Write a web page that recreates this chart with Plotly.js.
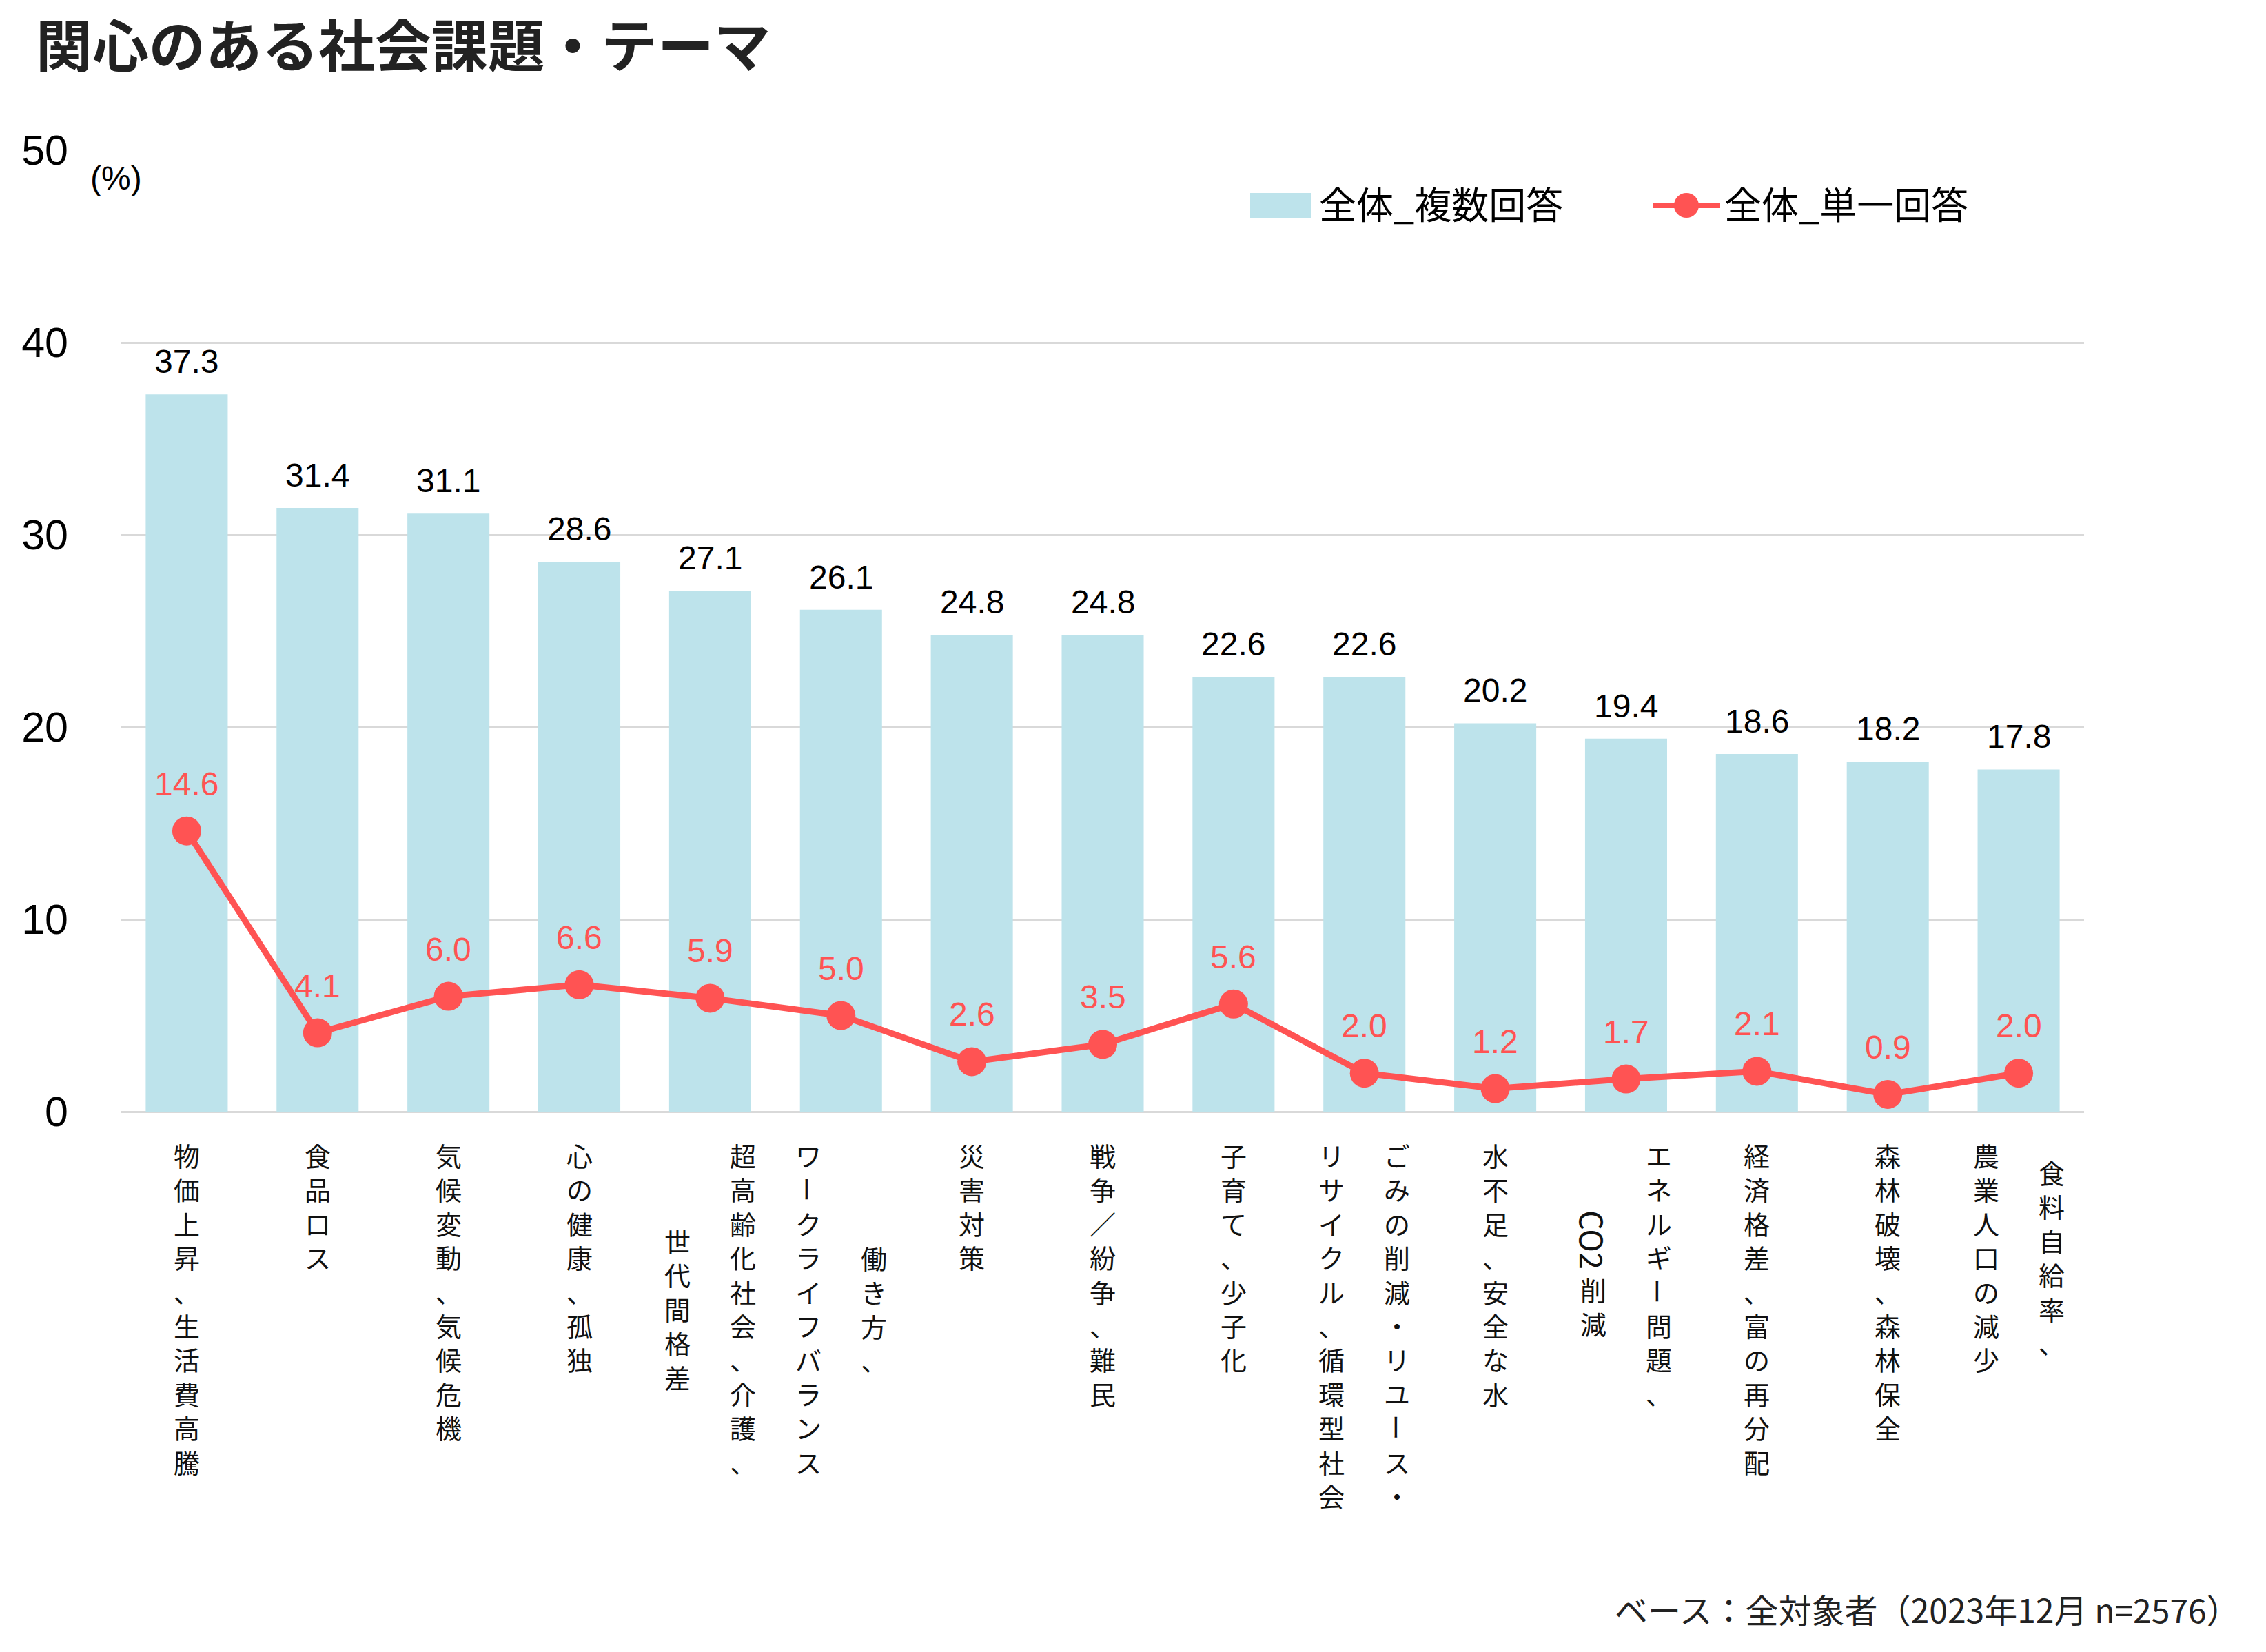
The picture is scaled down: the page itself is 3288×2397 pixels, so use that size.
<!DOCTYPE html>
<html>
<head>
<meta charset="utf-8">
<script src="https://cdn.plot.ly/plotly-3.0.1.min.js"></script>
<style>
  html, body { margin: 0; padding: 0; background: #ffffff; }
  #chart { width: 3288px; height: 2397px; }
</style>
</head>
<body>
<div id="chart"></div>
<script>
// ---- data ---------------------------------------------------------------
const titleText = '関心のある社会課題・テーマ';
const unitText = '(%)';
const noteText = 'ベース：全対象者（2023年12月 n=2576）';
const seriesNames = ['全体_複数回答', '全体_単一回答'];

const categories = [
  '物価上昇、生活費高騰',
  '食品ロス',
  '気候変動、気候危機',
  '心の健康、孤独',
  '超高齢化社会、介護、世代間格差',
  '働き方、ワークライフバランス',
  '災害対策',
  '戦争／紛争、難民',
  '子育て、少子化',
  'ごみの削減・リユース・リサイクル、循環型社会',
  '水不足、安全な水',
  'エネルギー問題、CO2削減',
  '経済格差、富の再分配',
  '森林破壊、森林保全',
  '食料自給率、農業人口の減少'
];

// vertical tick labels: columns read right to left
const tickColumns = [
  ['物価上昇、生活費高騰'],
  ['食品ロス'],
  ['気候変動、気候危機'],
  ['心の健康、孤独'],
  ['超高齢化社会、介護、', '世代間格差'],
  ['働き方、', 'ワークライフバランス'],
  ['災害対策'],
  ['戦争／紛争、難民'],
  ['子育て、少子化'],
  ['ごみの削減・リユース・', 'リサイクル、循環型社会'],
  ['水不足、安全な水'],
  ['エネルギー問題、', 'CO2削減'],
  ['経済格差、富の再分配'],
  ['森林破壊、森林保全'],
  ['食料自給率、', '農業人口の減少']
];

const multiAnswer  = [37.3, 31.4, 31.1, 28.6, 27.1, 26.1, 24.8, 24.8, 22.6, 22.6, 20.2, 19.4, 18.6, 18.2, 17.8];
const singleAnswer = [14.6, 4.1, 6.0, 6.6, 5.9, 5.0, 2.6, 3.5, 5.6, 2.0, 1.2, 1.7, 2.1, 0.9, 2.0];
const yTicks = [0, 10, 20, 30, 40, 50];

// ---- styles -------------------------------------------------------------
const W = 3288, H = 2397;
const M = { l: 176, r: 264, t: 218, b: 784 };
const plotW = W - M.l - M.r, plotH = H - M.t - M.b;
const axisY = H - M.b;

const JP = '"Noto Sans CJK JP", "Noto Sans", sans-serif';
const NUM = '"Liberation Sans", Arial, sans-serif';
const barColor = '#bde3eb';
const lineColor = '#ff5353';
const gridColor = '#d9d9d9';
const textColor = '#111111';

// pixel position on the page -> paper fraction
const px = x => (x - M.l) / plotW;
const py = y => (axisY - y) / plotH;

// ---- vertical category labels -------------------------------------------
// Plotly stacks <br> lines at 1.3em, so one upright run per annotation
const labelFont = 38, pitch = 1.3 * labelFont, colGap = 95, labelTop = 38;
const latinFont = 45;
const ctx = document.createElement('canvas').getContext('2d');
ctx.font = latinFont + 'px "Noto Sans CJK JP"';
const measure = s => ctx.measureText(s).width;

// split a column into upright runs and sideways pieces (Latin, long vowel mark)
function columnRuns(str) {
  const runs = [];
  const re = /[A-Za-z0-9]+|ー|[^A-Za-z0-9ー]+/gu;
  let m;
  while ((m = re.exec(str))) {
    const t = m[0];
    if (/^[A-Za-z0-9]+$/.test(t)) {
      runs.push({ t, sideways: true, size: latinFont, len: measure(t) + 8 });
    } else if (t === 'ー') {
      runs.push({ t, sideways: true, size: labelFont, len: pitch });
    } else {
      const chars = Array.from(t);
      runs.push({ t: chars.join('<br>'), sideways: false, size: labelFont, len: chars.length * pitch });
    }
  }
  return runs;
}

const annotations = [];
tickColumns.forEach((cols, i) => {
  const runsPerCol = cols.map(columnRuns);
  const lens = runsPerCol.map(r => r.reduce((s, a) => s + a.len, 0));
  const maxLen = Math.max(...lens);
  const n = cols.length;
  runsPerCol.forEach((runs, j) => {
    const xoff = ((n - 1) / 2 - j) * colGap;
    let cum = (maxLen - lens[j]) / 2;
    runs.forEach(r => {
      annotations.push({
        xref: 'x', x: i, xshift: xoff,
        yref: 'paper', y: 0, yshift: -(labelTop + cum + r.len / 2),
        xanchor: 'center', yanchor: 'middle',
        text: r.t, textangle: r.sideways ? 90 : 0,
        showarrow: false, borderpad: 0,
        font: { family: JP, size: r.size, color: textColor }
      });
      cum += r.len;
    });
  });
});

// ---- value labels ---------------------------------------------------------
multiAnswer.forEach((v, i) => {
  annotations.push({
    xref: 'x', x: i, yref: 'y', y: v, yshift: 19,
    xanchor: 'center', yanchor: 'bottom', showarrow: false,
    text: v.toFixed(1),
    font: { family: NUM, size: 48, color: '#000000' }
  });
});
singleAnswer.forEach((v, i) => {
  annotations.push({
    xref: 'x', x: i, yref: 'y', y: v, yshift: 40,
    xanchor: 'center', yanchor: 'bottom', showarrow: false,
    text: v.toFixed(1),
    font: { family: NUM, size: 48, color: lineColor }
  });
});

// ---- unit, legend and note ------------------------------------------------
annotations.push({
  xref: 'paper', x: px(168), yref: 'paper', y: py(258),
  xanchor: 'center', yanchor: 'middle', showarrow: false,
  text: unitText, font: { family: NUM, size: 48, color: '#000000' }
});
annotations.push({
  xref: 'paper', x: px(1912), yref: 'paper', y: py(294),
  xanchor: 'left', yanchor: 'middle', showarrow: false,
  text: seriesNames[0], font: { family: JP, size: 54, color: '#000000' }
});
annotations.push({
  xref: 'paper', x: px(2500), yref: 'paper', y: py(294),
  xanchor: 'left', yanchor: 'middle', showarrow: false,
  text: seriesNames[1], font: { family: JP, size: 54, color: '#000000' }
});
annotations.push({
  xref: 'paper', x: px(3252), yref: 'paper', y: py(2334),
  xanchor: 'right', yanchor: 'middle', showarrow: false,
  text: noteText, font: { family: JP, size: 48, color: '#222222' }
});

const shapes = [
  { type: 'rect', xref: 'paper', yref: 'paper',
    x0: px(1814), x1: px(1902), y0: py(317), y1: py(280),
    fillcolor: barColor, line: { width: 0 } },
  { type: 'line', xref: 'paper', yref: 'paper',
    x0: px(2399), x1: px(2496), y0: py(298), y1: py(298),
    line: { color: lineColor, width: 8 } },
  { type: 'circle', xref: 'paper', yref: 'paper',
    xsizemode: 'pixel', ysizemode: 'pixel',
    xanchor: px(2447), yanchor: py(298),
    x0: -18, x1: 18, y0: -18, y1: 18,
    fillcolor: lineColor, line: { width: 0 } }
];

// ---- traces ---------------------------------------------------------------
const traces = [
  {
    type: 'bar', name: seriesNames[0],
    x: categories, y: multiAnswer,
    marker: { color: barColor, line: { width: 0 } },
    hoverinfo: 'skip'
  },
  {
    type: 'scatter', mode: 'lines+markers', name: seriesNames[1],
    x: categories, y: singleAnswer,
    line: { color: lineColor, width: 9 },
    marker: { color: lineColor, size: 42 },
    cliponaxis: false,
    hoverinfo: 'skip'
  }
];

const layout = {
  width: W, height: H,
  margin: M,
  paper_bgcolor: '#ffffff', plot_bgcolor: '#ffffff',
  showlegend: false,
  bargap: 0.373,
  title: {
    text: titleText,
    xref: 'container', x: 52 / W, xanchor: 'left',
    yref: 'container', y: 1 - 68 / H, yanchor: 'middle',
    font: { family: JP, size: 82, weight: 700, color: '#222222' }
  },
  xaxis: {
    type: 'category',
    range: [-0.5, categories.length - 0.5],
    showticklabels: false, ticks: '',
    showgrid: false, showline: false, zeroline: false
  },
  yaxis: {
    range: [0, 50],
    tickmode: 'array', tickvals: yTicks, ticktext: yTicks.map(String),
    ticks: '', ticklabelstandoff: 76,
    tickfont: { family: NUM, size: 61, color: '#000000' },
    showgrid: true, gridcolor: gridColor, gridwidth: 3,
    zeroline: true, zerolinecolor: gridColor, zerolinewidth: 3,
    showline: false
  },
  annotations: annotations,
  shapes: shapes
};

Plotly.newPlot('chart', traces, layout, { staticPlot: true, displayModeBar: false });
</script>
</body>
</html>
